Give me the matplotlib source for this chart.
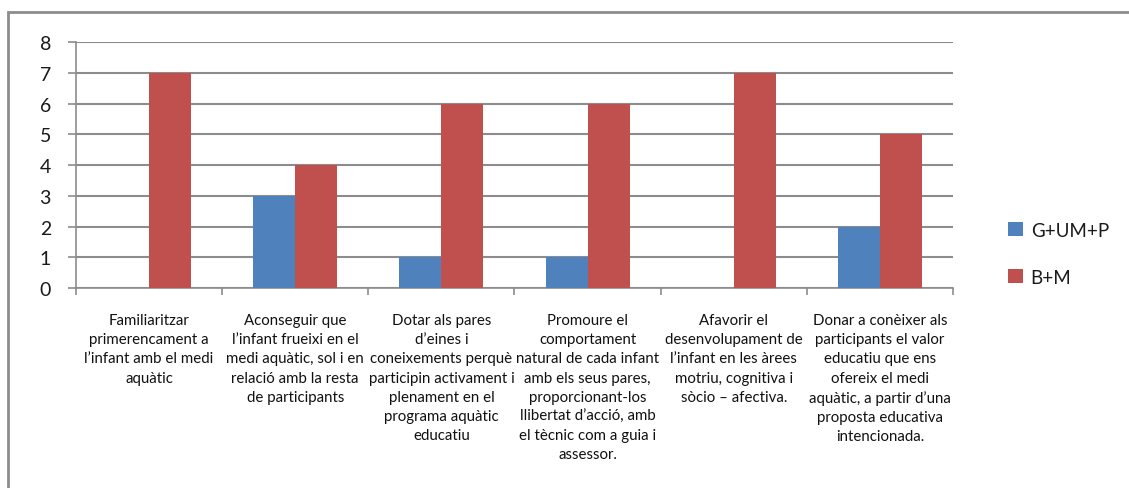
import numpy as np
import matplotlib.pyplot as plt
from matplotlib.patches import Rectangle

plt.rcParams['font.family'] = ['Lato', 'DejaVu Sans']

objectius = [
    "Familiaritzar\nprimerencament a\nl’infant amb el medi\naquàtic",
    "Aconseguir que\nl’infant frueixi en el\nmedi aquàtic, sol i en\nrelació amb la resta\nde participants",
    "Dotar als pares\nd’eines i\nconeixements perquè\nparticipin activament i\nplenament en el\nprograma aquàtic\neducatiu",
    "Promoure el\ncomportament\nnatural de cada infant\namb els seus pares,\nproporcionant-los\nllibertat d’acció, amb\nel tècnic com a guia i\nassessor.",
    "Afavorir el\ndesenvolupament de\nl’infant en les àrees\nmotriu, cognitiva i\nsòcio – afectiva.",
    "Donar a conèixer als\nparticipants el valor\neducatiu que ens\nofereix el medi\naquàtic, a partir d’una\nproposta educativa\nintencionada.",
]
g_um_p = [0, 3, 1, 1, 0, 2]
b_m = [7, 4, 6, 6, 7, 5]
series_names = ["G+UM+P", "B+M"]

blau = "#4F81BD"
vermell = "#C0504D"
gris = "#8C8C8C"

fig = plt.figure(figsize=(11.29, 4.89), dpi=100)
ax = fig.add_axes([0.0673, 0.409, 0.7768, 0.503])

x = np.arange(len(objectius))
w = 0.287
ax.bar(x - w / 2, g_um_p, w, color=blau, label=series_names[0], zorder=3)
ax.bar(x + w / 2, b_m, w, color=vermell, label=series_names[1], zorder=3)

ax.set_xlim(-0.5, len(objectius) - 0.5)
ax.set_ylim(0, 8)
ax.set_yticks(range(0, 9))
ax.yaxis.grid(True, color=gris, linewidth=1.5, zorder=0)

for side in ("top", "right"):
    ax.spines[side].set_visible(False)
for side in ("left", "bottom"):
    ax.spines[side].set_color(gris)
    ax.spines[side].set_linewidth(1.2)

ax.tick_params(axis="y", length=6, width=1.2, color=gris, pad=12,
               labelsize=14, labelcolor="#1a1a1a")
ax.set_xticks(x)
ax.set_xticklabels(objectius, fontsize=10.8, linespacing=1.47, color="#111111")
ax.tick_params(axis="x", which="major", length=0, pad=18)
ax.set_xticks(np.arange(-0.5, len(objectius)), minor=True)
ax.tick_params(axis="x", which="minor", length=5, width=1.2, color=gris)

ax.legend(loc="center left", bbox_to_anchor=(0.878, 0.479),
          bbox_transform=fig.transFigure, frameon=False, fontsize=13.5,
          handlelength=0.8, handleheight=0.8, handletextpad=0.4,
          labelspacing=1.6, labelcolor="#1a1a1a")

# marc exterior del gràfic
fig.patches.append(Rectangle((8 / 1129, -0.05), 1.1, 1 - 13 / 489 + 0.05,
                             transform=fig.transFigure, fill=False,
                             edgecolor=gris, linewidth=2, clip_on=False))

fig.savefig("out.png", dpi=100)
